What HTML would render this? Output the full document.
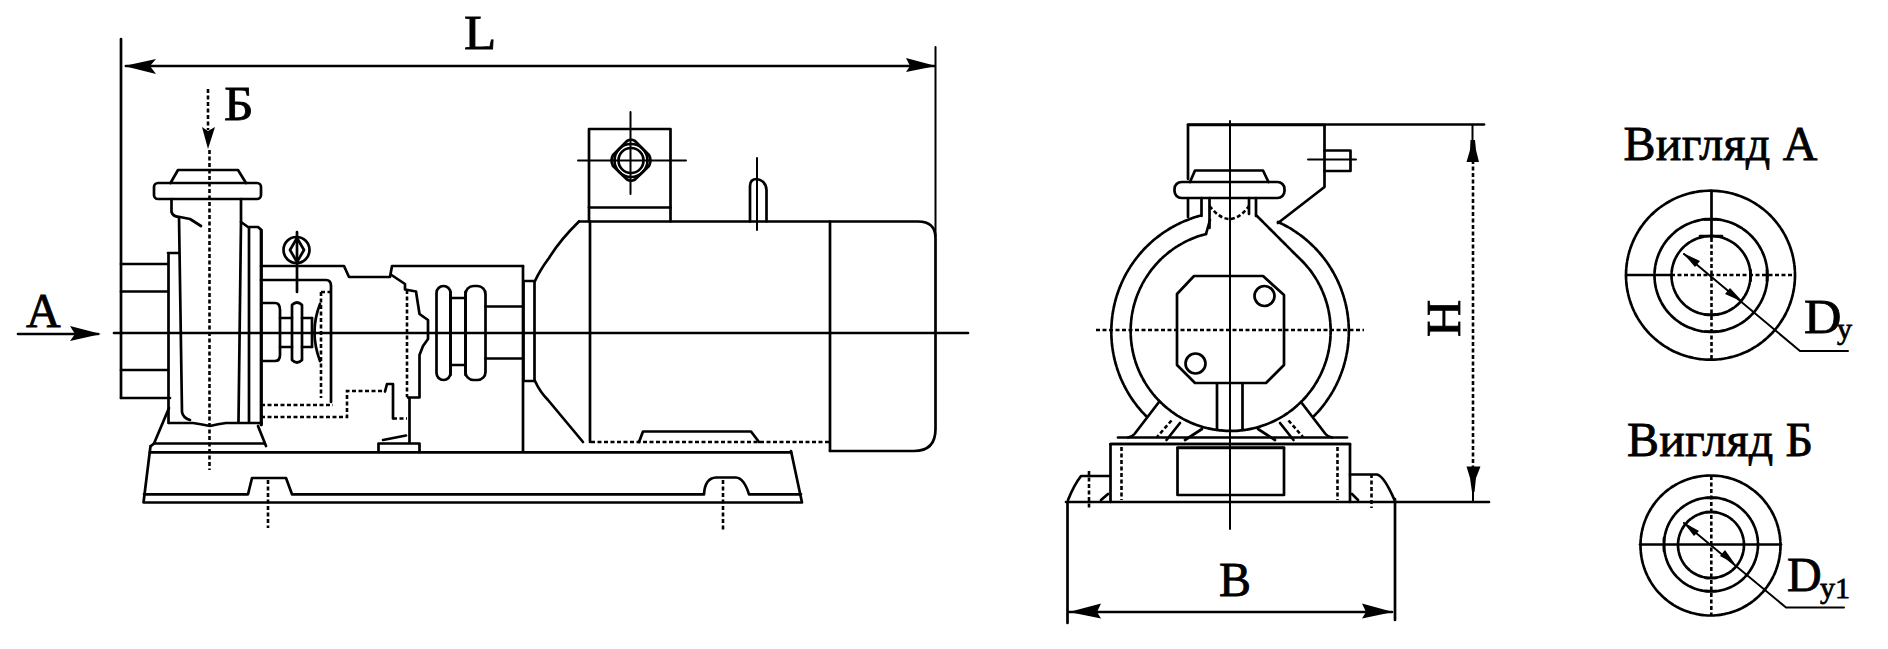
<!DOCTYPE html>
<html><head><meta charset="utf-8"><title>Pump drawing</title>
<style>
html,body{margin:0;padding:0;background:#fff;}
svg{display:block;}
text{font-family:"Liberation Serif",serif;fill:#000;stroke:#000;stroke-width:0.8;}
.s{fill:none;stroke:#000;stroke-width:2.7;stroke-linejoin:round;stroke-linecap:round;}
.t{fill:none;stroke:#000;stroke-width:2;stroke-linejoin:round;stroke-linecap:round;}
.d{fill:none;stroke:#000;stroke-width:2.6;stroke-dasharray:4 2.5;}
.f{fill:#000;stroke:none;}
</style></head>
<body>
<svg width="1888" height="649" viewBox="0 0 1888 649">
<rect width="1888" height="649" fill="#fff"/>

<!-- ============ LEFT (SIDE) VIEW ============ -->
<g id="side">
<!-- L dimension -->
<path class="s" d="M121,39 V398"/>
<path class="t" d="M935.5,47 V236"/>
<path class="s" d="M126,66 H934"/>
<path class="f" d="M124,66 L156,59 L150,66 L156,74 Z"/>
<path class="f" d="M936,66 L906,58 L910,66 L906,72 Z"/>
<text transform="translate(465,49) scale(1.1,1)" x="-1" y="0" font-size="48">L</text>

<!-- Б arrow -->
<path class="d" d="M208,89 V130"/>
<path class="f" d="M208,149 L202,127 L208,131 L215,127 Z"/>
<text transform="translate(225,119.5) scale(1.07,1)" x="-1" y="0" font-size="48">Б</text>

<!-- A arrow -->
<path class="s" d="M18,334 H98"/>
<path class="f" d="M101,334 L70,326 L75,334 L70,341 Z"/>
<text x="26" y="327" font-size="48">A</text>

<!-- axis -->
<path class="s" d="M114,333 H968" stroke-width="2.2"/>
<!-- pump vertical axis -->
<path class="d" d="M209.5,150 V470"/>

<!-- inlet flange -->
<path class="s" d="M121,264 H168 M121,291.5 H168 M121,370 H168 M121,398 H170"/>

<!-- pump casing -->
<path class="s" d="M170.5,183 L178,170 H238 L246,183"/>
<rect class="s" x="154" y="183" width="107" height="16" rx="4"/>
<path class="s" d="M171.5,199 V212 Q173,217 180,217 L190,219 L201,226"/>
<path class="s" d="M179,217 L182,412 Q183,418 190,420"/>
<path class="s" d="M168,253 H179 M168.5,253 V423"/>
<path class="s" d="M241,199 V222 L248,227 H258 L261.5,230 V425"/>
<path class="s" d="M241,222 L238.5,422" stroke-width="3.2"/>
<path class="s" d="M249,228 V422"/>
<path class="s" d="M169,423 H193 Q200,424 210,426 Q218,424 226,423 H261.5"/>
<!-- pump pedestal -->
<path class="s" d="M169,408 L154,443.5 L151,446"/>
<path class="s" d="M258,426 L266,446"/>
<path class="s" d="M154,443.5 H264"/>

<!-- base -->
<path class="s" d="M150,452.3 H791" stroke-width="3.6"/>
<path class="s" d="M150.5,446 L143.5,502.5 H802 L791,451" stroke-width="3.3"/>
<path class="s" d="M144,494.3 H248 L252,478 H286 L292,494.3 H704 Q705,478 716,477.5 H736 Q744,478 749,494.3 H801" stroke-width="3.2"/>
<path class="d" d="M268,480 V528"/>
<path class="d" d="M723,480 V531"/>

<!-- bearing housing -->
<circle class="s" cx="296.5" cy="250" r="13" stroke-width="3.4"/>
<path class="s" d="M297,238 L290,250 L297,262 L304,250 Z" stroke-width="2.4"/>
<path class="s" d="M297,232 V292" stroke-width="2.4"/>
<path class="s" d="M261,230 V425"/>
<path class="s" d="M261,266 H344 L349,277 H390 L392,266 H523"/>
<path class="s" d="M261,280 H326 Q331,280 331,286 V402" stroke-width="3.2"/>
<path class="d" d="M321,292 H331 M321,292 V398"/>
<path class="s" d="M391.5,275 L405,284 V289.5 L416,291.5 L419.5,314 L428,320 V339 L423,346 L419.5,355 V397.5 H408"/>
<path class="d" d="M407,290 V397"/>
<!-- small coupling -->
<path class="s" d="M263,303 H275 Q280,303 280,310 V355 Q280,361 275,361 H263"/>
<path class="s" d="M280,318 H292 M280,347 H292"/>
<path class="s" d="M292,305 Q297,300 302,305 V360 Q297,365 292,360 Z"/>
<path class="s" d="M302,318 H312 M302,347 H312"/>
<path class="s" d="M312,318 V347"/>
<path class="s" d="M320,304 Q309,332 320,361" stroke-width="3.4"/>
<!-- lower dashed boxes -->
<path class="d" d="M261,405 H333"/>
<path class="d" d="M261,417 H347 V391 H385"/>
<path class="s" d="M385,391.5 L387,384 H393 V418.5"/>
<path class="d" d="M393,418.5 H407"/>
<!-- bearing support -->
<path class="s" d="M409.5,398 V442" stroke-width="3.6"/>
<path class="s" d="M378.5,452 V443.5 H419.5 V452"/>
<path class="s" d="M383,440 L406,435.5"/>

<!-- big coupling -->
<rect class="s" x="436.5" y="286" width="14" height="94" rx="7"/>
<rect class="s" x="465.5" y="286" width="20" height="94" rx="8"/>
<path class="s" d="M450.5,292 V375 M465.5,292 V375 M450.5,298 H465.5 M450.5,365 H465.5"/>
<path class="s" d="M485.5,306.5 H523 M485.5,358.5 H523"/>
<rect class="s" x="523.5" y="281" width="11" height="100"/>
<path class="s" d="M523,266 V451"/>

<!-- motor -->
<path class="s" d="M579,221.5 Q560,240 549,258 Q540,270 535,281"/>
<path class="s" d="M535,381 Q540,392 548,400 L583,442"/>
<path class="s" d="M579,221.5 H918 Q935.5,221.5 935.5,238 V429 Q935.5,451 914,451 H830"/>
<path class="s" d="M590,221.5 V442"/>
<path class="s" d="M830,221.5 V451"/>
<path class="d" d="M591,442 H830"/>
<!-- motor foot -->
<path class="s" d="M639,442 L643,431.5 H751 L759,442"/>
<!-- terminal box -->
<path class="s" d="M589,221.5 V129 H670.5 V221.5"/>
<path class="s" d="M589,207.5 H670.5"/>
<path class="s" d="M627,141 Q631,138.5 635,141 L649,155 Q652,160.5 649,166 L635,179.5 Q631,182 627,179.5 L613,166 Q610,160.5 613,155 Z" stroke-width="3"/>
<circle class="s" cx="631" cy="160.5" r="12.5" stroke-width="3.2"/>
<circle class="s" cx="631" cy="160.5" r="16.5" stroke-width="1.6"/>
<path class="t" d="M578,160.5 H686 M630.5,112 V194"/>
<!-- lifting eye -->
<path class="s" d="M750,221.5 V186 Q750,179 757,179 Q766,181 766.5,190 V221.5"/>
<path class="t" d="M757,158 V230"/>
</g>

<!-- ============ FRONT VIEW ============ -->
<g id="front">
<!-- H dimension -->
<path class="s" d="M1188,124.5 H1484"/>
<path class="t" d="M1472.5,125 V142 M1473,488 V502"/>
<path class="d" d="M1473,160 V470"/>
<path class="f" d="M1470.5,140 H1475 L1476,150 L1479,162 H1466.5 L1470,150 Z"/>
<path class="f" d="M1466.5,466.5 H1480.5 L1476,478 L1474.5,492 H1472 L1470,478 Z"/>
<text transform="translate(1459.5,337) rotate(-90) scale(1.08,1)" x="0" y="0" font-size="48">H</text>
<path class="s" d="M1066,502 H1489"/>
<!-- B dimension -->
<path class="s" d="M1067.5,502 V623"/>
<path class="s" d="M1395,499 V620"/>
<path class="s" d="M1069,612 H1392" stroke-width="2.4"/>
<path class="f" d="M1069,612 L1101,603.5 L1097,612 L1101,618.5 Z"/>
<path class="f" d="M1393,612 L1362,603.5 L1366,612 L1362,618.5 Z"/>
<text x="1219" y="596" font-size="48">B</text>

<!-- center line -->
<path class="t" d="M1230,121 V529"/>
<path class="d" d="M1096,330 H1364"/>

<!-- top box -->
<path class="s" d="M1188,179 V125 H1324.5 V187 L1278,223"/>
<path class="s" d="M1188,199 V217"/>
<!-- stud -->
<path class="s" d="M1324.5,150.5 H1350.5 V171 H1324.5"/>
<path class="t" d="M1308,159.5 H1356"/>
<!-- flange -->
<path class="s" d="M1190,182 L1195,170.5 H1263 L1268.5,182"/>
<rect class="s" x="1174.5" y="182" width="110" height="16" rx="7"/>
<path class="s" d="M1201.5,198 V216 M1209.5,198 V228 M1249,198 V214 M1256,198 V216"/>
<path class="d" d="M1209.5,206 Q1230,232 1249,206"/>
<!-- volute circles -->
<path class="s" d="M1146,416 A120,120 0 0 1 1201,215.5" stroke-width="2.5" stroke-dasharray="5 1.5"/>
<path class="s" d="M1278,222 A120,120 0 0 1 1314,416" stroke-width="2.5" stroke-dasharray="5 1.5"/>
<path class="s" d="M1206,234 A100,100 0 1 0 1298,257 L1257,216" stroke-width="2.5" stroke-dasharray="5 1.5"/>
<path class="s" d="M1206,234 L1210,220"/>
<!-- octagon -->
<path class="s" d="M1194,276 H1263 L1284,295 V365 L1266,383 H1195 L1177,365 V294 Z"/>
<circle class="s" cx="1264.5" cy="296" r="10"/>
<circle class="s" cx="1195.5" cy="363.5" r="10"/>
<!-- shaft -->
<path class="s" d="M1217,384 V430 M1242.5,384 V430"/>
<!-- feet -->
<path class="s" d="M1159,402 L1134.5,434 Q1132,437 1128,437.5"/>
<path class="d" d="M1171.5,420.5 L1157,437"/>
<path class="s" d="M1180,423 L1166.5,440"/>
<path class="s" d="M1202,429 L1185,440"/>
<path class="s" d="M1301,402 L1325.5,434 Q1328,437 1332,437.5"/>
<path class="d" d="M1288.5,420.5 L1303,437"/>
<path class="s" d="M1280,423 L1293.5,440"/>
<path class="s" d="M1258,429 L1275,440"/>
<!-- base block -->
<path class="s" d="M1118,437.5 H1347"/>
<path class="s" d="M1110.5,502 V444 H1350 V502"/>
<path class="s" d="M1110.5,444 H1350" stroke-width="4"/>
<path class="d" d="M1121.5,447 V500 M1337.5,447 V500"/>
<path class="s" d="M1177.5,495 V447.5 H1284 V495 H1177.5" stroke-width="2.8"/>
<path class="s" d="M1177.5,448 H1284" stroke-width="4"/>
<!-- side bumps -->
<path class="s" d="M1068,500 Q1074,485 1081,476 H1110"/>
<path class="s" d="M1101,500 L1108,494"/>
<path class="d" d="M1089,471 V510"/>
<path class="s" d="M1350,474.5 H1377 Q1384,476 1394.5,500"/>
<path class="s" d="M1352,494 L1358,500"/>
<path class="d" d="M1371.5,474 V508"/>
</g>

<!-- ============ RIGHT VIEWS ============ -->
<g id="views">
<text x="1623.5" y="159.5" font-size="48" textLength="194">Вигляд А</text>
<circle class="s" cx="1710.5" cy="275.2" r="84.5" stroke-width="2.2" stroke-dasharray="5 1.5"/>
<circle class="s" cx="1711" cy="275.5" r="56.5" stroke-width="2.4" stroke-dasharray="6 1.5"/>
<circle class="s" cx="1711" cy="275.5" r="39.5" stroke-width="2.4" stroke-dasharray="6 1.5"/>
<path class="s" d="M1626,275 H1671 M1711.5,191 V238" stroke-width="2.6"/>
<path class="d" d="M1671,275 H1796 M1711.5,238 V360" stroke-width="2.2"/>
<path class="s" d="M1700,236 H1722 M1705,314.5 H1718 M1705,219.5 H1718 M1705,331.5 H1718 M1767,270 V281 M1750.5,270 V281" stroke-width="2.8"/>
<path class="t" d="M1684,254 L1800,351 H1848" stroke-width="2"/>
<path class="f" d="M1683,253 L1700,261 L1695,267 Z"/>
<path class="f" d="M1743,302 L1725,294 L1730,288 Z"/>
<text transform="translate(1804,333) scale(1.08,1)" x="0" y="0" font-size="48">D</text>
<text x="1837" y="339" font-size="30">y</text>

<text x="1627" y="455.5" font-size="48" textLength="186">Вигляд Б</text>
<circle class="s" cx="1710.5" cy="545.5" r="70" stroke-width="2.2" stroke-dasharray="5 1.5"/>
<circle class="s" cx="1711" cy="544.5" r="47" stroke-width="2.4" stroke-dasharray="6 1.5"/>
<circle class="s" cx="1711" cy="545" r="33" stroke-width="2.4" stroke-dasharray="6 1.5"/>
<path class="s" d="M1640,544.5 H1781" stroke-width="2.4"/>
<path class="d" d="M1711.3,476 V615" stroke-width="2.2"/>
<path class="s" d="M1664,538 V551 M1706,512 H1716 M1706,578 H1716 M1706,498 H1716 M1706,591 H1716" stroke-width="2.6"/>
<path class="t" d="M1684,523 L1786,607.5 H1844" stroke-width="2"/>
<path class="f" d="M1683,522 L1699,531 L1694,536 Z"/>
<path class="f" d="M1735,564 L1720,556 L1725,550 Z"/>
<text x="1787" y="591" font-size="48">D</text>
<text x="1820" y="598" font-size="30">y1</text>
</g>
</svg>
</body></html>
